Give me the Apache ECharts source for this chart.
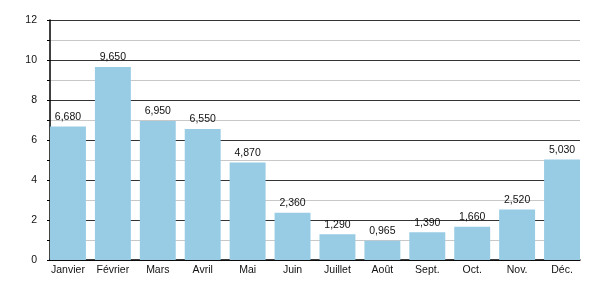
<!DOCTYPE html>
<html><head><meta charset="utf-8">
<script src="https://cdn.jsdelivr.net/npm/echarts@6/dist/echarts.min.js"></script>
<style>html,body{margin:0;padding:0;background:#fff}#c{width:600px;height:300px}</style>
</head><body><div id="c"></div>
<script>
const categories = ['Janvier','Février','Mars','Avril','Mai','Juin','Juillet','Août','Sept.','Oct.','Nov.','Déc.'];
const values = [6.68, 9.65, 6.95, 6.55, 4.87, 2.36, 1.29, 0.965, 1.39, 1.66, 2.52, 5.03];
const yTicks = [0, 2, 4, 6, 8, 10, 12];

const chart = echarts.init(document.getElementById('c'), null, {renderer: 'canvas'});
const font = 'Liberation Sans, Arial, sans-serif';
const yMin = yTicks[0], yMax = yTicks[yTicks.length-1];
chart.setOption({
  animation: false,
  grid: [
    {left: 45.5, right: 15.5, top: 20, bottom: 40, containLabel: false},
    {left: 50, right: 20, top: 20, bottom: 40, containLabel: false}
  ],
  xAxis: [{
    type: 'category', data: categories, gridIndex: 0,
    axisLine: {show: false},
    axisTick: {show: false},
    axisLabel: {color: '#111', fontSize: 10.5, fontFamily: font, margin: 5, interval: 0}
  }, {
    type: 'value', gridIndex: 1, min: 0, max: 1,
    axisLine: {show: true, onZero: false, lineStyle: {color: '#000', width: 1.5}},
    axisTick: {show: false}, axisLabel: {show: false}, splitLine: {show: false}
  }],
  yAxis: [{
    type: 'value', gridIndex: 0, min: yMin, max: yMax, interval: 2,
    show: false, splitLine: {show: false}
  }, {
    type: 'value', gridIndex: 1, min: yMin, max: yMax, interval: 2,
    axisLine: {show: true, lineStyle: {color: '#000', width: 1.5}},
    axisTick: {show: true, length: 3, lineStyle: {color: '#000'}},
    minorTick: {show: true, splitNumber: 2, length: 3, lineStyle: {color: '#000'}},
    splitLine: {show: true, lineStyle: {color: '#333', width: 1}},
    minorSplitLine: {show: true, lineStyle: {color: '#c8c8c8', width: 1}},
    axisLabel: {color: '#111', fontSize: 10.5, fontFamily: font, margin: 13}
  }],
  series: [{
    type: 'bar', data: values, xAxisIndex: 0, yAxisIndex: 0, barCategoryGap: '20%',
    itemStyle: {color: '#98cce5'},
    label: {show: true, position: 'top', color: '#111', fontSize: 10.5, fontFamily: font, distance: 4,
      formatter: p => p.value.toFixed(3).replace('.', ',')}
  }]
});
</script></body></html>
